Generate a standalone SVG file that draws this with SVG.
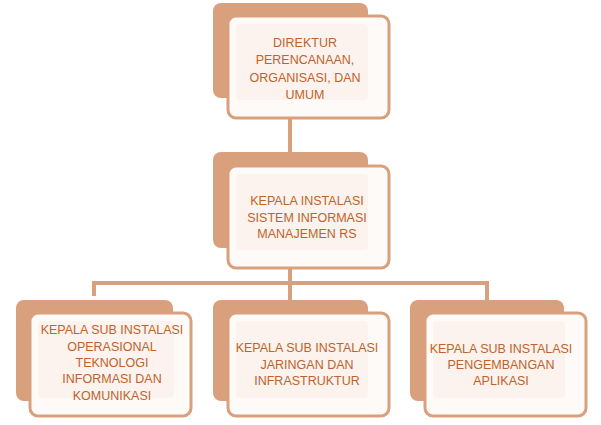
<svg xmlns="http://www.w3.org/2000/svg" width="601" height="425" viewBox="0 0 601 425">
<style>
.back{fill:#d9a07e;}
.front{fill:#fefaf8;stroke:#d9a07e;stroke-width:3;}
.inner{fill:#fcf3ee;}
.conn{fill:none;stroke:#d9a07e;stroke-width:4;}
text{font-family:"Liberation Sans",Arial,sans-serif;font-size:12.5px;fill:#c0622a;text-anchor:middle;}
</style>
<rect width="601" height="425" fill="#ffffff"/>
<g id="connectors">
<line class="conn" x1="290" y1="118" x2="290" y2="153"/>
<line class="conn" x1="290" y1="268" x2="290" y2="301"/>
<polyline class="conn" points="94,296 94,283 487,283 487,301"/>
</g>
<g id="n1">
<rect class="back" x="213" y="3" width="155" height="95" rx="8"/>
<rect class="front" x="228" y="16" width="161" height="102" rx="8"/>
<rect class="inner" x="236" y="24" width="132" height="76" rx="4"/>
<text x="305" y="47">DIREKTUR</text>
<text x="305" y="64">PERENCANAAN,</text>
<text x="305" y="82">ORGANISASI, DAN</text>
<text x="305" y="99">UMUM</text>
</g>
<g id="n2">
<rect class="back" x="213" y="152" width="155" height="96" rx="8"/>
<rect class="front" x="228" y="166" width="161" height="102" rx="8"/>
<rect class="inner" x="236" y="174" width="132" height="76" rx="4"/>
<text x="307" y="205">KEPALA INSTALASI</text>
<text x="307" y="222">SISTEM INFORMASI</text>
<text x="307" y="238">MANAJEMEN RS</text>
</g>
<g id="n3">
<rect class="back" x="16" y="300" width="157" height="101" rx="8"/>
<rect class="front" x="30" y="313" width="161" height="103" rx="8"/>
<rect class="inner" x="38" y="321" width="136" height="77" rx="4"/>
<text x="112" y="334">KEPALA SUB INSTALASI</text>
<text x="112" y="351">OPERASIONAL</text>
<text x="112" y="367">TEKNOLOGI</text>
<text x="112" y="383">INFORMASI DAN</text>
<text x="112" y="400">KOMUNIKASI</text>
</g>
<g id="n4">
<rect class="back" x="213" y="300" width="155" height="101" rx="8"/>
<rect class="front" x="228" y="313" width="161" height="103" rx="8"/>
<rect class="inner" x="236" y="321" width="132" height="77" rx="4"/>
<text x="307" y="352">KEPALA SUB INSTALASI</text>
<text x="307" y="369">JARINGAN DAN</text>
<text x="307" y="385">INFRASTRUKTUR</text>
</g>
<g id="n5">
<rect class="back" x="410" y="300" width="154" height="101" rx="8"/>
<rect class="front" x="425" y="313" width="161" height="103" rx="8"/>
<rect class="inner" x="433" y="321" width="132" height="77" rx="4"/>
<text x="501" y="353">KEPALA SUB INSTALASI</text>
<text x="501" y="369">PENGEMBANGAN</text>
<text x="501" y="385">APLIKASI</text>
</g>
</svg>
